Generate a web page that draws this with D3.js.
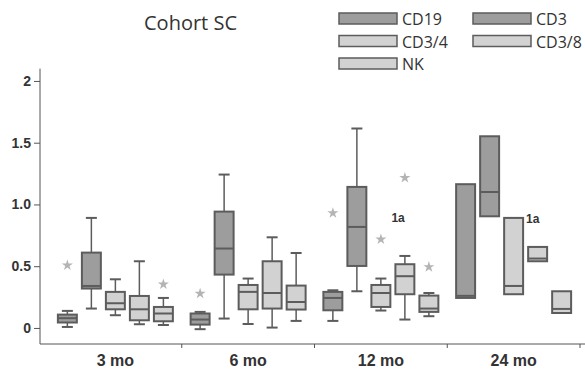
<!DOCTYPE html>
<html>
<head>
<meta charset="utf-8">
<script src="https://cdn.jsdelivr.net/npm/d3@7"></script>
<style>
  body { margin: 0; background: #fff; }
  .title { font-family: "Open Sans", "Noto Sans", sans-serif; font-size: 20px; fill: #333; }
  .legend text { font-family: "Open Sans", "Noto Sans", sans-serif; font-size: 16px; fill: #333; }
  .axis text { font-family: "Liberation Sans", Arial, sans-serif; font-weight: bold; fill: #333; }
</style>
</head>
<body>
<div class="boxChart"></div>
<script>
var months = ["3 mo", "6 mo", "12 mo", "24 mo"];
var seriesNames = ["CD19", "CD3", "CD3/4", "CD3/8", "NK"];
var yTicks = [0, 0.5, 1.0, 1.5, 2];

// per month: [low whisker, q1, median, q3, high whisker]
var cd19 = [[0.008, 0.044, 0.079, 0.108, 0.138], [-0.01, 0.027, 0.068, 0.117, 0.13], [0.057, 0.143, 0.243, 0.292, 0.305], [null, 0.243, 0.26, 1.164, null]];
var cd3 = [[0.157, 0.319, 0.34, 0.61, 0.891], [0.076, 0.432, 0.643, 0.942, 1.242], [0.297, 0.502, 0.818, 1.142, 1.615], [null, 0.904, 1.101, 1.552, null]];
var cd34 = [[0.103, 0.151, 0.2, 0.292, 0.394], [0.032, 0.151, 0.292, 0.348, 0.4], [0.141, 0.17, 0.283, 0.348, 0.4], [null, 0.273, 0.34, 0.891, null]];
var cd38 = [[0.03, 0.062, 0.151, 0.259, 0.54], [0.003, 0.157, 0.283, 0.54, 0.734], [0.068, 0.273, 0.419, 0.516, 0.583], [null, 0.54, 0.562, 0.656, null]];
var nk = [[0.024, 0.054, 0.117, 0.17, 0.243], [0.057, 0.149, 0.21, 0.343, 0.607], [0.095, 0.13, 0.157, 0.262, 0.283], [null, 0.121, 0.154, 0.297, null]];

// outliers: [month, series, value]
var outliers = [["3 mo", "CD19", 0.508], ["3 mo", "NK", 0.354], ["6 mo", "CD19", 0.279], ["12 mo", "CD19", 0.931], ["12 mo", "CD3/4", 0.718], ["12 mo", "CD3/8", 1.215], ["12 mo", "NK", 0.494]];
// notes: [month, series, value, text]
var notes = [["12 mo", "CD3/8", 0.9, "1a"], ["24 mo", "CD3/4", 0.89, "1a"]];

var width = 585, height = 374;
var seriesData = [cd19, cd3, cd34, cd38, nk];
var fills = { "CD19": "#9d9d9d", "CD3": "#9d9d9d", "CD3/4": "#d2d2d2", "CD3/8": "#d2d2d2", "NK": "#d2d2d2" };
var stroke = "#5c5c5c";

var svg = d3.select(".boxChart").append("svg")
    .attr("width", width)
    .attr("height", height);

var x = d3.scaleBand().domain(months).range([49, 580]);
var xs = d3.scaleBand().domain(seriesNames).range([0, x.bandwidth()])
    .paddingInner(0.21).paddingOuter(0.37);
var y = d3.scaleLinear().domain([-0.13, 2.1]).range([344, 68.6]);

// y axis
var yAxis = svg.append("g")
    .attr("class", "axis")
    .attr("transform", "translate(40,0)")
    .call(d3.axisLeft(y).tickValues(yTicks).tickSize(6).tickPadding(3)
      .tickFormat(function(d) { return d === 0 || d === 2 ? d : d3.format(".1f")(d); }));
yAxis.selectAll("text").style("font-size", "14px");
yAxis.selectAll("line, path").attr("stroke", "#555");
yAxis.select(".domain").attr("d", "M0," + y.range()[1] + "V" + y.range()[0]);

// x axis
var xAxis = svg.append("g")
    .attr("class", "axis")
    .attr("transform", "translate(0," + y.range()[0] + ")")
    .call(d3.axisBottom(x).tickSize(0).tickPadding(11));
xAxis.selectAll("text").style("font-size", "16px");
xAxis.select(".domain").attr("stroke", "#555").attr("d", "M40,0H" + width);
xAxis.selectAll(".sep")
  .data(months)
  .enter().append("line")
    .attr("class", "sep")
    .attr("x1", function(m) { return x(m) + x.bandwidth(); })
    .attr("x2", function(m) { return x(m) + x.bandwidth(); })
    .attr("y1", 0).attr("y2", 4)
    .attr("stroke", "#555");

// boxes
var boxes = [];
seriesNames.forEach(function(s, si) {
  months.forEach(function(m, mi) {
    var v = seriesData[si][mi];
    boxes.push({ series: s, month: m, lo: v[0], q1: v[1], med: v[2], q3: v[3], hi: v[4] });
  });
});

function cx(d) { return x(d.month) + xs(d.series) + xs.bandwidth() / 2; }
var capW = 11;

var g = svg.selectAll(".box")
  .data(boxes)
  .enter().append("g")
    .attr("class", "box");

g.filter(function(d) { return d.hi !== null; }).append("line")
    .attr("x1", cx).attr("x2", cx)
    .attr("y1", function(d) { return y(d.hi); })
    .attr("y2", function(d) { return y(d.lo); })
    .attr("stroke", stroke).attr("stroke-width", 1.5);

g.filter(function(d) { return d.hi !== null; }).selectAll(".cap")
  .data(function(d) { return [d, d]; })
  .enter().append("line")
    .attr("x1", function(d) { return cx(d) - capW / 2; })
    .attr("x2", function(d) { return cx(d) + capW / 2; })
    .attr("y1", function(d, i) { return y(i ? d.lo : d.hi); })
    .attr("y2", function(d, i) { return y(i ? d.lo : d.hi); })
    .attr("stroke", stroke).attr("stroke-width", 2);

g.append("rect")
    .attr("x", function(d) { return x(d.month) + xs(d.series); })
    .attr("width", xs.bandwidth())
    .attr("y", function(d) { return y(d.q3); })
    .attr("height", function(d) { return y(d.q1) - y(d.q3); })
    .style("fill", function(d) { return fills[d.series]; })
    .attr("stroke", stroke).attr("stroke-width", 2);

g.append("line")
    .attr("x1", function(d) { return x(d.month) + xs(d.series); })
    .attr("x2", function(d) { return x(d.month) + xs(d.series) + xs.bandwidth(); })
    .attr("y1", function(d) { return y(d.med); })
    .attr("y2", function(d) { return y(d.med); })
    .attr("stroke", stroke).attr("stroke-width", 2);

// outlier stars
svg.selectAll(".star")
  .data(outliers)
  .enter().append("path")
    .attr("class", "star")
    .attr("d", d3.symbol().type(d3.symbolStar).size(38))
    .attr("transform", function(d) {
      return "translate(" + (x(d[0]) + xs(d[1]) + xs.bandwidth() / 2) + "," + y(d[2]) + ")";
    })
    .style("fill", "#b4b4b4");

// notes
svg.selectAll(".note")
  .data(notes)
  .enter().append("text")
    .attr("class", "note")
    .attr("x", function(d) {
      return d[0] === "24 mo" ? x(d[0]) + xs(d[1]) + xs.bandwidth() + 3 : x(d[0]) + xs(d[1]) - 4;
    })
    .attr("y", function(d) { return y(d[2]) + 5; })
    .text(function(d) { return d[3]; })
    .style("font-family", "Liberation Sans, Arial, sans-serif")
    .style("font-weight", "bold")
    .style("font-size", "12px")
    .style("fill", "#333");

// title
svg.append("text")
  .attr("class", "title")
  .attr("x", 144)
  .attr("y", 30)
  .text("Cohort SC");

// legend
var legend = svg.selectAll(".legend")
  .data(seriesNames)
  .enter().append("g")
    .attr("class", "legend")
    .attr("transform", function(d, i) {
      return "translate(" + (339 + (i % 2) * 134) + "," + (13 + Math.floor(i / 2) * 22.5) + ")";
    });

legend.append("rect")
  .attr("width", 58)
  .attr("height", 11)
  .style("fill", function(d) { return fills[d]; })
  .attr("stroke", stroke)
  .attr("stroke-width", 1.5);

legend.append("text")
  .attr("x", 63)
  .attr("y", 12)
  .text(function(d) { return d; });
</script>
</body>
</html>
